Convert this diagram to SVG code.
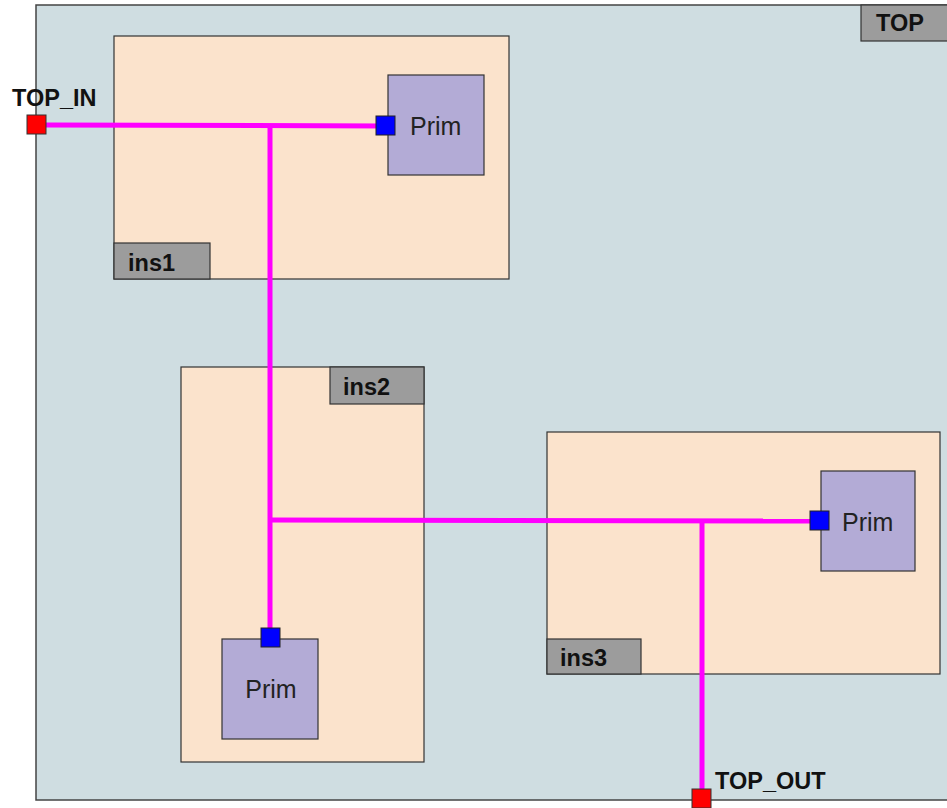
<svg xmlns="http://www.w3.org/2000/svg" width="947" height="808" viewBox="0 0 947 808">
<style>
.top{fill:#cfdde1;stroke:#444;stroke-width:1.5}
.inst{fill:#fbe3cc;stroke:#333;stroke-width:1.2}
.lbl{fill:#9c9c9c;stroke:#333;stroke-width:1.2}
.prim{fill:#b3abd6;stroke:#333;stroke-width:1.2}
.bp{fill:#0000ff;stroke:#222;stroke-width:1}
.rp{fill:#ff0000;stroke:#333;stroke-width:1}
.bt{font-family:"Liberation Sans",Arial,sans-serif;font-weight:bold;font-size:23.5px;fill:#111}
.pt{font-family:"Liberation Sans",Arial,sans-serif;font-size:25px;fill:#222}
.w{stroke:#ff00ff;stroke-width:5;fill:none}
</style>
<rect width="947" height="808" fill="#ffffff"/>
<g id="TOP">
<rect class="top" x="36" y="5" width="920" height="795"/>
<rect class="lbl" x="861" y="5" width="90" height="36"/>
<text class="bt" x="876" y="31">TOP</text>
</g>
<g id="ins1">
<rect class="inst" x="114" y="36" width="395" height="243"/>
<rect class="lbl" x="114" y="243" width="96" height="36"/>
<text class="bt" x="128" y="271">ins1</text>
</g>
<g id="ins2">
<rect class="inst" x="181" y="367" width="243" height="395"/>
<rect class="lbl" x="330" y="367" width="94" height="37"/>
<text class="bt" x="343" y="395">ins2</text>
</g>
<g id="ins3">
<rect class="inst" x="547" y="432" width="393" height="242"/>
<rect class="lbl" x="547" y="639" width="94" height="35"/>
<text class="bt" x="560" y="666">ins3</text>
</g>
<g id="connectors">
<polyline class="w" points="46,125 385,126"/>
<polyline class="w" points="270,125 270,630"/>
<polyline class="w" points="270,520 812,521"/>
<polyline class="w" points="702,520 702,792"/>
</g>
<g id="prim1">
<rect class="prim" x="388" y="75" width="96" height="100"/>
<text class="pt" x="410" y="135">Prim</text>
<rect class="bp" x="376" y="116" width="19" height="19"/>
</g>
<g id="prim2">
<rect class="prim" x="222" y="639" width="96" height="100"/>
<text class="pt" x="271" y="698" text-anchor="middle">Prim</text>
<rect class="bp" x="261" y="628" width="19" height="19"/>
</g>
<g id="prim3">
<rect class="prim" x="821" y="471" width="94" height="100"/>
<text class="pt" x="842" y="531">Prim</text>
<rect class="bp" x="810" y="511" width="19" height="19"/>
</g>
<g id="TOP_IN">
<rect class="rp" x="27" y="115" width="19" height="19"/>
<text class="bt" x="12" y="106">TOP_IN</text>
</g>
<g id="TOP_OUT">
<rect class="rp" x="692" y="789" width="19" height="19"/>
<text class="bt" x="715" y="789">TOP_OUT</text>
</g>
</svg>
